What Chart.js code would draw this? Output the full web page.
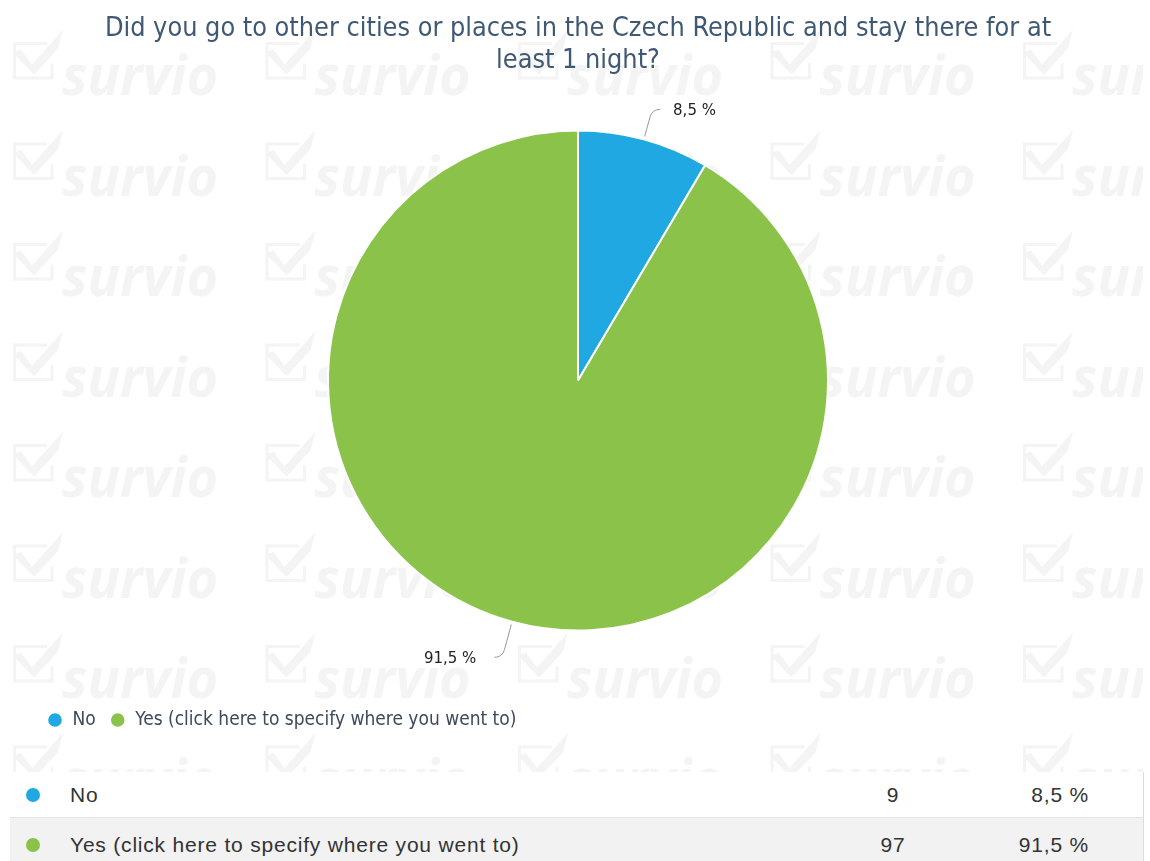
<!DOCTYPE html>
<html>
<head>
<meta charset="utf-8">
<script src="https://cdn.jsdelivr.net/npm/chart.js@4/dist/chart.umd.min.js"></script>
<style>
  body { margin: 0; background: #fff; width: 1150px; height: 861px; overflow: hidden; }
  #wrap { position: relative; width: 1150px; height: 772px; }
  #summary { position: absolute; left: 10px; top: 772px; width: 1133px; border-right: 1px solid #dcdcdc;
             font-family: 'Liberation Sans', Arial, sans-serif; font-size: 21px; letter-spacing: 0.8px; color: #333; }
  .row { position: relative; height: 45px; }
  .row + .row { background: #f2f2f2; border-top: 1px solid #e4e4e4; height: 60px; }
  .row span { position: absolute; line-height: 24px; }
  .dot { width: 14px; height: 14px; border-radius: 50%; }
</style>
</head>
<body>
<div id="wrap"><canvas id="pie" width="1150" height="772"></canvas></div>
<div id="summary"></div>
<script>
const answers = ["No", "Yes (click here to specify where you went to)"];
const counts = [9, 97];
const colors = ["#1fa8e1", "#8bc34a"];

const total = counts.reduce((a, b) => a + b, 0);
const percentText = v => (v / total * 100).toFixed(1).replace(".", ",") + " %";

// faint survio logo tiled behind everything
const watermark = {
  id: "watermark",
  beforeDraw(chart) {
    const ctx = chart.ctx;
    ctx.save();
    ctx.fillStyle = "#fff";
    ctx.fillRect(0, 0, chart.width, chart.height);
    ctx.beginPath();
    ctx.rect(0, 0, 1143, chart.height);
    ctx.clip();
    ctx.fillStyle = "#f4f4f4";
    ctx.strokeStyle = "#f4f4f4";
    ctx.font = "italic bold 56px 'Open Sans'";
    const w = ctx.measureText("survio").width;
    for (let row = 0; row < 8; row++) {
      for (let col = 0; col < 5; col++) {
        const x = 13 + col * 252.5;
        const y = 180 + (row - 1) * 100.5;
        // box
        ctx.lineWidth = 3;
        ctx.beginPath();
        ctx.moveTo(x + 34, y - 36);
        ctx.lineTo(x + 1.5, y - 36);
        ctx.lineTo(x + 1.5, y - 1.5);
        ctx.lineTo(x + 39, y - 1.5);
        ctx.lineTo(x + 39, y - 16);
        ctx.stroke();
        // tick
        ctx.beginPath();
        ctx.moveTo(x, y - 27);
        ctx.lineTo(x + 8, y - 30);
        ctx.lineTo(x + 19, y - 15);
        ctx.lineTo(x + 50, y - 50);
        ctx.lineTo(x + 45, y - 31);
        ctx.lineTo(x + 21, y - 5);
        ctx.closePath();
        ctx.fill();
        // text
        ctx.save();
        ctx.translate(x + 49, y);
        ctx.scale(156 / w, 1);
        ctx.fillText("survio", 0, 0);
        ctx.restore();
      }
    }
    ctx.restore();
  }
};

// percentage labels with curved connectors
const sliceLabels = {
  id: "sliceLabels",
  afterDatasetsDraw(chart) {
    const ctx = chart.ctx;
    const meta = chart.getDatasetMeta(0);
    ctx.save();
    ctx.font = "15px 'DejaVu Sans'";
    ctx.textBaseline = "middle";
    meta.data.forEach((arc, i) => {
      const { x, y, startAngle, endAngle, outerRadius } =
        arc.getProps(["x", "y", "startAngle", "endAngle", "outerRadius"], true);
      const mid = (startAngle + endAngle) / 2;
      const cos = Math.cos(mid), sin = Math.sin(mid);
      const dir = cos >= 0 ? 1 : -1;
      const reach = sin > 0 ? 37 : 31;
      const p0 = { x: x + cos * (outerRadius + 3), y: y + sin * (outerRadius + 3) };
      const p1 = { x: x + cos * (outerRadius + reach - 8), y: y + sin * (outerRadius + reach - 8) };
      const p2 = { x: x + cos * (outerRadius + reach), y: y + sin * (outerRadius + reach) };
      const p3 = { x: p2.x + dir * 8, y: p2.y };
      ctx.strokeStyle = "#9a9a9a";
      ctx.lineWidth = 1;
      ctx.beginPath();
      ctx.moveTo(p0.x, p0.y);
      ctx.lineTo(p1.x, p1.y);
      ctx.quadraticCurveTo(p2.x, p2.y, p3.x, p3.y);
      ctx.stroke();
      ctx.fillStyle = "#222";
      ctx.textAlign = dir > 0 ? "left" : "right";
      ctx.fillText(percentText(counts[i]), p3.x + dir * (dir > 0 ? 13 : 18), p3.y + 2);
    });
    ctx.restore();
  }
};

new Chart(document.getElementById("pie"), {
  type: "pie",
  data: {
    labels: answers,
    datasets: [{
      data: counts,
      backgroundColor: colors,
      borderColor: "#fff",
      borderWidth: 2,
      radius: 250
    }]
  },
  options: {
    responsive: false,
    animation: false,
    events: [],
    layout: { padding: { left: 33, right: 27, top: 0, bottom: 32.5 } },
    plugins: {
      title: {
        display: true,
        text: ["Did you go to other cities or places in the Czech Republic and stay there for at", "least 1 night?"],
        color: "#3f5873",
        font: { family: "'DejaVu Sans Condensed', 'DejaVu Sans'", size: 26.8, weight: "normal", lineHeight: 32 / 26.8 },
        padding: { top: 13.5, bottom: -13 }
      },
      legend: {
        position: "bottom",
        align: "start",
        labels: {
          usePointStyle: true,
          pointStyle: "circle",
          boxWidth: 16,
          boxHeight: 11,
          padding: 14,
          color: "#3d4a5a",
          font: { family: "'DejaVu Sans Condensed', 'DejaVu Sans'", size: 19 }
        }
      },
      tooltip: { enabled: false }
    }
  },
  plugins: [watermark, sliceLabels]
});

// answer / count / share table under the chart
const summary = document.getElementById("summary");
answers.forEach((a, i) => {
  const row = document.createElement("div");
  row.className = "row";
  const top = i === 0 ? 12 : 16;
  row.innerHTML =
    `<span class="dot" style="left:16px;top:${top + 4}px;background:${colors[i]}"></span>` +
    `<span style="left:60px;top:${top - 1}px">${a}</span>` +
    `<span style="left:833px;width:100px;text-align:center;top:${top - 1}px">${counts[i]}</span>` +
    `<span style="left:979px;width:100px;text-align:right;top:${top - 1}px">${percentText(counts[i])}</span>`;
  summary.appendChild(row);
});
</script>
</body>
</html>
